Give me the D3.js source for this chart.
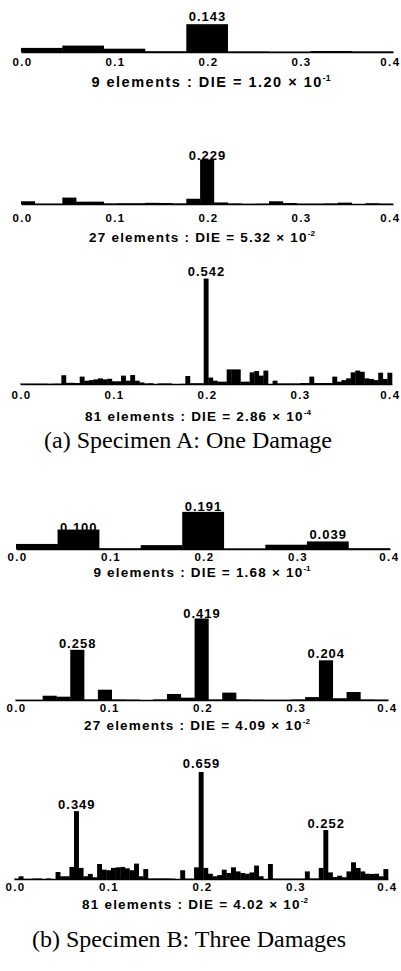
<!DOCTYPE html>
<html>
<head>
<meta charset="utf-8">
<script src="https://cdn.jsdelivr.net/npm/d3@7"></script>
<style>
  body { margin: 0; background: #fff; }
  svg { display: block; }
  .axis text { font-family: "Liberation Sans", Arial, sans-serif; font-weight: bold; fill: #000; }
  .axis path { stroke: #000; stroke-width: 1.3; }
</style>
</head>
<body>
<script>
// x tick values shared by every histogram
const ticks = [0, 0.1, 0.2, 0.3, 0.4];

// DIE per element
const a9 = [0.021, 0.033, 0.017, 0.004, 0.143, 0.003, 0.002, 0.005, 0.003];
const a27 = [0.014, 0.002, 0.002, 0.033, 0.012, 0.012, 0.003, 0.004, 0.004, 0.006, 0.005, 0.003, 0.027, 0.229,
  0.008, 0.003, 0.001, 0.002, 0.014, 0.005, 0.002, 0.002, 0.003, 0.007, 0, 0.004, 0.002];
const a81 = [0.002, 0.002, 0.002, 0.002, 0.002, 0.002, 0.001, 0.002, 0.002, 0.045,
  0.006, 0.006, 0.005, 0.038, 0.017, 0.02, 0.024, 0.029, 0.024, 0.027,
  0.014, 0.014, 0.043, 0.017, 0.046, 0.017, 0.008, 0.003, 0.004, 0,
  0.003, 0.003, 0.003, 0, 0, 0.001, 0.041, 0.004, 0.004, 0.004,
  0.542, 0.033, 0.017, 0.012, 0.012, 0.075, 0.075, 0.075, 0.012, 0.012,
  0.06, 0.067, 0.043, 0.069, 0, 0.017, 0.003, 0.003, 0.003, 0.003,
  0.003, 0.005, 0.005, 0.038, 0.005, 0.005, 0.005, 0.005, 0.038, 0.012,
  0.02, 0.029, 0.06, 0.069, 0.063, 0.029, 0.026, 0.02, 0.058, 0.026, 0.058];
const b9 = [0.026, 0.100, 0.004, 0.02, 0.191, 0.003, 0.022, 0.039, 0.004];
const b27 = [0.001, 0.001, 0.022, 0.017, 0.258, 0.003, 0.053, 0.003, 0.002, 0, 0.003, 0.031, 0.012, 0.419,
  0.003, 0.038, 0.003, 0.002, 0.001, 0.001, 0.003, 0.015, 0.204, 0.009, 0.041, 0.003, 0.002];
const b81 = [0.002, 0.014, 0.001, 0.001, 0.003, 0.003, 0, 0.003, 0, 0.036,
  0.014, 0.014, 0.062, 0.349, 0.057, 0.014, 0.026, 0.009, 0.077, 0.048,
  0.045, 0.057, 0.06, 0.062, 0.055, 0.045, 0.079, 0.014, 0.051, 0.003,
  0.003, 0.003, 0.003, 0.003, 0.002, 0, 0.045, 0.002, 0.002, 0.06,
  0.659, 0.057, 0.027, 0.014, 0.02, 0.048, 0.031, 0.06, 0.039, 0.031,
  0.027, 0.034, 0.069, 0.014, 0, 0.077, 0.002, 0.002, 0.002, 0.002,
  0.002, 0.002, 0.002, 0.039, 0.003, 0.003, 0.057, 0.252, 0.034, 0.01,
  0.017, 0.009, 0.039, 0.086, 0.057, 0.039, 0.027, 0.026, 0.027, 0.014, 0.051];

// which elements get a value label
const peaksA9 = [4], peaksA27 = [13], peaksA81 = [40];
const peaksB9 = [1, 4, 7], peaksB27 = [4, 13, 22], peaksB81 = [13, 40, 67];

const elemCounts = [9, 27, 81, 9, 27, 81];
const dieText = ["1.20", "5.32", "2.86", "1.68", "4.09", "4.02"];
const dieExp = ["-1", "-2", "-4", "-1", "-2", "-2"];
const headings = ["(a) Specimen A: One Damage", "(b) Specimen B: Three Damages"];

const W = 401, H = 971;
const sans = "Liberation Sans, Arial, sans-serif";
const svg = d3.select("body").append("svg").attr("width", W).attr("height", H);

// shared vertical scale, tall spikes are cut at the panel top
const yH = d3.scaleLinear().domain([0, 0.55]).range([0, 107]).clamp(true);

// layout of each histogram
const panels = [
  { values: a9, peaks: peaksA9, base: 52, x0: 21, x1: 393, tickPad: 6, capY: 86.5, capX: 211, capSize: 14.5, capLs: 1.5, lift: [3] },
  { values: a27, peaks: peaksA27, base: 204, x0: 21, x1: 393, tickPad: 9.5, capY: 242, capX: 202, capSize: 13.5, capLs: 1.2, lift: [-1] },
  { values: a81, peaks: peaksA81, base: 384, x0: 20, x1: 392, tickPad: 7, capY: 421, capX: 198, capSize: 13.5, capLs: 1.2, lift: [3] },
  { values: b9, peaks: peaksB9, base: 549, x0: 16, x1: 390, tickPad: 4, capY: 577, capX: 202, capSize: 13.5, capLs: 1.2, lift: [-2, 1, 2] },
  { values: b27, peaks: peaksB27, base: 700, x0: 15, x1: 388, tickPad: 4, capY: 730, capX: 197, capSize: 13.5, capLs: 1.2, lift: [2, 0, 2] },
  { values: b81, peaks: peaksB81, base: 879, x0: 14, x1: 388, tickPad: 4, capY: 909, capX: 195, capSize: 13.5, capLs: 1.2, lift: [2, 4, 2] }
];

panels.forEach((p, k) => {
  const x = d3.scaleLinear().domain([0, 0.4]).range([p.x0, p.x1]);
  const band = d3.scaleBand().domain(d3.range(p.values.length)).range([p.x0, p.x1]).paddingInner(0);
  const g = svg.append("g");

  g.selectAll("rect.bar")
    .data(p.values)
    .enter().append("rect")
    .attr("class", "bar")
    .attr("x", (d, i) => band(i))
    .attr("width", band.bandwidth() + 0.3)
    .attr("y", d => p.base - yH(d))
    .attr("height", d => yH(d))
    .attr("fill", "#000");

  // baseline + tick labels, the last one is kept inside the page
  const lastTick = ticks[ticks.length - 1];
  const axis = d3.axisBottom(x)
    .tickValues(ticks)
    .tickSize(0)
    .tickSizeOuter(0)
    .tickPadding(p.tickPad)
    .tickFormat(d3.format(".1f"));
  g.append("g")
    .attr("class", "axis")
    .attr("transform", "translate(0," + p.base + ")")
    .call(axis)
    .call(s => s.selectAll("text")
      .attr("font-size", 11.5)
      .attr("letter-spacing", 1.4)
      .attr("text-anchor", d => d === lastTick ? "end" : "middle")
      .attr("dx", d => d === lastTick ? Math.min(9, 400 - p.x1) : 1));

  // peak values
  g.selectAll("text.peak")
    .data(p.peaks)
    .enter().append("text")
    .attr("class", "peak")
    .attr("x", i => band(i) + band.bandwidth() / 2 + 0.5)
    .attr("y", (i, j) => p.base - yH(p.values[i]) - p.lift[j])
    .attr("text-anchor", "middle")
    .attr("font-family", sans)
    .attr("font-weight", "bold")
    .attr("font-size", 13)
    .attr("letter-spacing", 1)
    .text(i => p.values[i].toFixed(3));

  // caption
  const cap = g.append("text")
    .attr("x", p.capX)
    .attr("y", p.capY)
    .attr("text-anchor", "middle")
    .attr("font-family", sans)
    .attr("font-weight", "bold")
    .attr("font-size", p.capSize)
    .attr("letter-spacing", p.capLs);
  cap.append("tspan").text(elemCounts[k] + " elements : DIE = " + dieText[k] + " \u00d7 10");
  cap.append("tspan")
    .attr("dy", -6)
    .attr("font-size", p.capSize * 0.6)
    .attr("letter-spacing", 0)
    .text(dieExp[k]);
});

svg.selectAll("text.heading")
  .data(headings)
  .enter().append("text")
  .attr("class", "heading")
  .attr("x", (d, i) => i ? 189 : 188)
  .attr("y", (d, i) => i ? 946.5 : 447.5)
  .attr("text-anchor", "middle")
  .attr("font-family", "Liberation Serif, Times New Roman, serif")
  .attr("font-size", 24)
  .text(d => d);
</script>
</body>
</html>
